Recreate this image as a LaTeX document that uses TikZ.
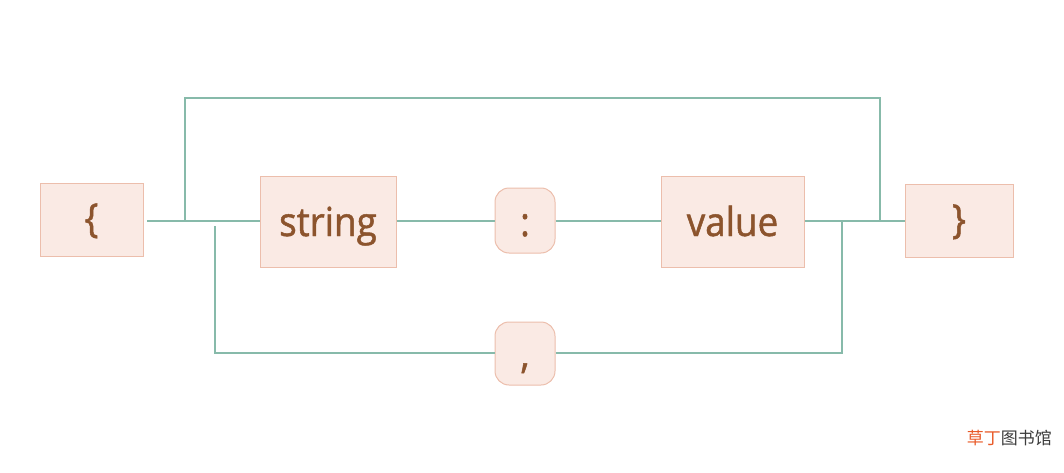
\documentclass[tikz,border=0pt]{standalone}
\usepackage{fontspec}
\setmainfont{Open Sans}
\newfontfamily\tokfont{Open Sans}[FakeBold=1.2,FakeStretch=0.92]
\newfontfamily\cjk{Noto Sans CJK SC}
\definecolor{boxfill}{RGB}{250,234,228}
\definecolor{boxline}{RGB}{236,190,172}
\definecolor{txt}{RGB}{140,84,45}
\definecolor{wire}{RGB}{135,186,170}
\definecolor{wmred}{RGB}{232,90,40}
\definecolor{wmgray}{RGB}{60,60,60}
\begin{document}
\begin{tikzpicture}[x=1pt,y=-1pt,
  tok/.style={draw=boxline,fill=boxfill,line width=1pt,text=txt,inner sep=0pt,text height=29pt,text depth=0pt,font=\tokfont\fontsize{40}{44}\selectfont},
  rnd/.style={tok,rounded corners=14pt},
  wire/.style={draw=wire,line width=2pt}]
\useasboundingbox (0,0) rectangle (1064,473);
\node[tok,minimum width=103pt,minimum height=73pt,text height=25pt] (lb) at (91.5,219.5) {\{};
\node[tok,minimum width=136pt,minimum height=91pt] (str) at (328,221.5) {string};
\node[rnd,minimum width=60pt,minimum height=65pt,text height=31pt] (col) at (525,220.5) {:};
\node[tok,minimum width=143pt,minimum height=91pt] (val) at (732.5,221.5) {value};
\node[tok,minimum width=108pt,minimum height=73pt,text height=25pt] (rb) at (959,220.5) {\}};
\node[rnd,minimum width=60pt,minimum height=63pt] (com) at (525,353.5) {,};
\coordinate (a) at (147,221);
\coordinate (t1) at (185,221);
\coordinate (t2) at (880,221);
\coordinate (b1) at (215,226);
\coordinate (b2) at (842,221);
\coordinate (bl) at (215,353);
\coordinate (br) at (842,353);
\draw[wire] (a) -- (str.west |- a);
\draw[wire] (str.east |- a) -- (col.west |- a);
\draw[wire] (col.east |- a) -- (val.west |- a);
\draw[wire] (val.east |- a) -- (rb.west |- a);
\draw[wire] (t1) |- (185,98) -| (t2);
\draw[wire] (b1) -- (bl) -- (com.west |- bl);
\draw[wire] (com.east |- br) -- (br) -- (b2);
\node[anchor=east,font=\cjk\fontsize{17}{20}\selectfont,inner sep=0pt] (wm) at (1052,438) {\textcolor{wmred}{草丁}\textcolor{wmgray}{图书馆}};
\end{tikzpicture}
\end{document}
